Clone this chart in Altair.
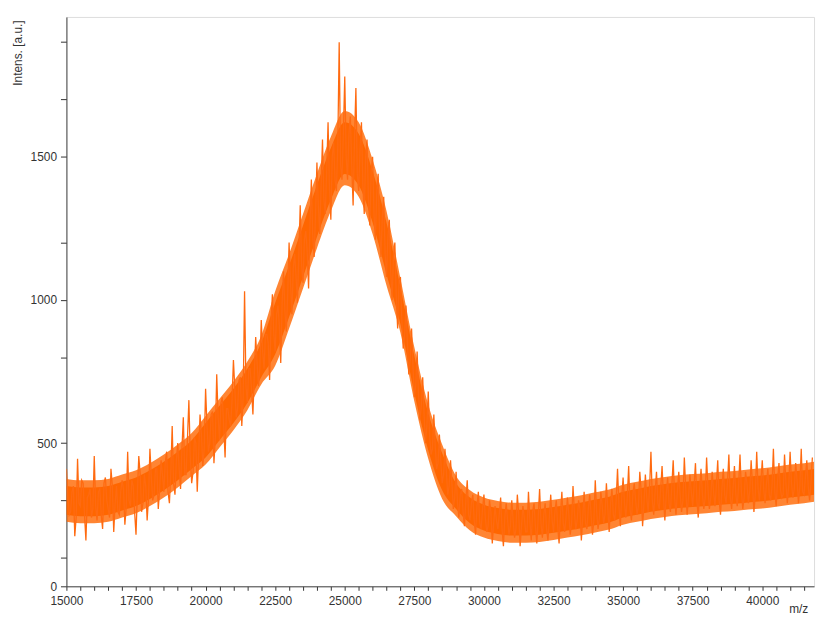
import altair as alt
import pandas as pd

# Spectrum trace, values.
# TRACE: m/z 15000, 15100, ... 41800 ; TRACE_B: m/z 15050, 15150, ... 41750
MZ_START, MZ_STEP = 15000, 100
TRACE = [
    410, 250, 330, 175, 445, 280, 360, 160, 320, 240,
    455, 230, 340, 200, 380, 270, 410, 190, 350, 250,
    370, 215, 470, 280, 350, 180, 455, 260, 390, 230,
    480, 300, 410, 270, 440, 330, 470, 290, 560, 320,
    500, 340, 590, 390, 650, 360, 520, 330, 600, 420,
    690, 470, 600, 430, 740, 510, 660, 450, 620, 560,
    790, 590, 720, 560, 1030, 640, 760, 600, 870, 700,
    930, 760, 880, 720, 1020, 820, 980, 780, 1100, 890,
    1200, 950, 1160, 990, 1330, 1060, 1240, 1040, 1420, 1150,
    1480, 1230, 1560, 1300, 1620, 1280, 1550, 1380, 1900, 1420,
    1780, 1420, 1640, 1330, 1740, 1380, 1620, 1300, 1560, 1260,
    1500, 1210, 1440, 1150, 1360, 1080, 1280, 1000, 1200, 900,
    1080, 830, 980, 740, 900, 660, 820, 580, 730, 500,
    680, 460, 600, 410, 530, 360, 480, 320, 440, 270,
    400, 240, 340, 210, 370, 230, 320, 180, 330, 200,
    320, 190, 300, 150, 280, 200, 310, 140, 290, 180,
    300, 170, 320, 140, 280, 190, 330, 160, 290, 150,
    340, 170, 290, 160, 320, 190, 300, 150, 330, 190,
    310, 180, 350, 200, 300, 160, 330, 200, 320, 180,
    370, 200, 330, 220, 360, 190, 340, 230, 410, 210,
    380, 240, 420, 230, 360, 250, 400, 210, 390, 260,
    470, 250, 400, 270, 420, 230, 380, 260, 440, 250,
    400, 260, 450, 250, 390, 280, 430, 240, 410, 270,
    450, 270, 400, 280, 440, 250, 410, 290, 460, 270,
    420, 280, 460, 270, 400, 290, 440, 260, 470, 300,
    440, 290, 410, 300, 480, 280, 430, 310, 460, 290,
    470, 310, 430, 290, 480, 320, 440, 300, 450,
]
TRACE_B = [
    320, 260, 350, 240, 290, 370, 250, 310, 340, 270,
    280, 330, 250, 360, 300, 240, 350, 290, 260, 330,
    340, 280, 300, 370, 260, 330, 390, 290, 350, 310,
    380, 320, 410, 340, 390, 430, 330, 400, 360, 440,
    410, 480, 390, 520, 450, 400, 500, 460, 530, 480,
    560, 500, 610, 520, 590, 640, 560, 620, 580, 650,
    690, 620, 730, 660, 700, 760, 690, 740, 780, 760,
    820, 880, 850, 920, 880, 950, 910, 990, 960, 1020,
    1060, 1110, 1080, 1160, 1120, 1210, 1170, 1260, 1220, 1300,
    1330, 1400, 1350, 1450, 1390, 1500, 1420, 1540, 1470, 1580,
    1500, 1580, 1470, 1560, 1440, 1530, 1400, 1500, 1350, 1450,
    1300, 1380, 1240, 1290, 1160, 1220, 1100, 1150, 1010, 1070,
    930, 870, 850, 790, 770, 700, 670, 630, 600, 560,
    520, 480, 490, 430, 440, 390, 400, 350, 360, 310,
    290, 320, 260, 300, 250, 290, 230, 280, 220, 270,
    240, 210, 260, 220, 230, 250, 200, 240, 230, 210,
    230, 200, 250, 210, 240, 190, 230, 260, 210, 240,
    220, 250, 200, 240, 230, 260, 210, 250, 220, 240,
    250, 220, 260, 230, 270, 240, 220, 270, 250, 230,
    260, 240, 280, 250, 270, 290, 250, 300, 280, 310,
    290, 310, 270, 320, 300, 280, 330, 290, 310, 340,
    300, 330, 290, 340, 310, 320, 290, 350, 310, 330,
    320, 300, 340, 310, 330, 350, 300, 340, 320, 310,
    340, 310, 330, 350, 300, 340, 320, 360, 310, 340,
    320, 350, 330, 310, 360, 330, 350, 320, 340, 360,
    340, 360, 320, 350, 330, 370, 340, 320, 360, 350,
    360, 340, 370, 350, 330, 380, 350, 360,
]
MZ = [MZ_START + i * MZ_STEP for i in range(len(TRACE))]
MZ_B = [MZ_START + MZ_STEP // 2 + i * MZ_STEP for i in range(len(TRACE_B))]

# Envelopes of the noisy trace, read every 500 m/z
BAND_MZ = [15000, 15500, 16000, 16500, 17000, 17500, 18000, 18500, 19000, 19500,
           20000, 20500, 21000, 21500, 22000, 22500, 23000, 23500, 24000, 24500,
           25000, 25500, 26000, 26500, 27000, 27500, 28000, 28500, 29000, 29500,
           30000, 30500, 31000, 31500, 32000, 32500, 33000, 33500, 34000, 34500,
           35000, 35500, 36000, 36500, 37000, 37500, 38000, 38500, 39000, 39500,
           40000, 40500, 41000, 41500, 41860]
# dense inner core
INNER_LO = [250, 245, 245, 250, 265, 280, 305, 335, 370, 410,
            450, 510, 570, 640, 730, 810, 940, 1080, 1220, 1350,
            1440, 1400, 1270, 1090, 915, 675, 475, 335, 270, 220,
            195, 183, 177, 177, 180, 187, 195, 203, 213, 223,
            240, 250, 260, 267, 273, 277, 280, 285, 288, 293,
            297, 303, 310, 315, 320]
INNER_HI = [350, 345, 345, 350, 365, 380, 405, 435, 470, 510,
            570, 630, 690, 760, 850, 990, 1120, 1260, 1400, 1530,
            1620, 1580, 1450, 1270, 1045, 805, 605, 465, 360, 310,
            285, 273, 267, 267, 270, 277, 285, 293, 303, 313,
            330, 340, 350, 357, 363, 367, 370, 375, 378, 383,
            387, 393, 400, 405, 410]
# fringe of the dense band
OUTER_LO = [225, 220, 220, 225, 240, 255, 280, 310, 345, 385,
            425, 485, 545, 615, 705, 770, 900, 1040, 1180, 1310,
            1400, 1360, 1230, 1050, 885, 645, 445, 305, 245, 195,
            170, 158, 152, 152, 155, 162, 170, 178, 188, 198,
            215, 225, 235, 242, 248, 252, 255, 260, 263, 268,
            272, 278, 285, 290, 295]
OUTER_HI = [375, 370, 370, 375, 390, 405, 430, 460, 495, 535,
            595, 655, 715, 785, 875, 1030, 1160, 1300, 1440, 1570,
            1660, 1620, 1490, 1310, 1075, 835, 635, 495, 385, 335,
            310, 298, 292, 292, 295, 302, 310, 318, 328, 338,
            355, 365, 375, 382, 388, 392, 395, 400, 403, 408,
            412, 418, 425, 430, 435]

X_TICKS = list(range(15000, 41501, 500))
Y_TICKS = [0, 100, 300, 500, 800, 1000, 1200, 1500, 1700, 1900]
X_DOMAIN = [15000, 41860]
Y_DOMAIN = [0, 1988]

trace_df = (
    pd.DataFrame({"mz": MZ + MZ_B, "intens": TRACE + TRACE_B})
    .sort_values("mz")
    .reset_index(drop=True)
)
band_df = pd.DataFrame({"mz": BAND_MZ, "ilo": INNER_LO, "ihi": INNER_HI,
                        "olo": OUTER_LO, "ohi": OUTER_HI})

FONT = "Liberation Sans"

x_enc = alt.X(
    "mz:Q",
    scale=alt.Scale(domain=X_DOMAIN, nice=False, zero=False),
    axis=alt.Axis(
        values=X_TICKS, format="d",
        labelExpr="datum.value % 2500 == 0 ? datum.label : ''",
        title="m/z", titleX=739, titleY=22, titleAlign="center",
        titleBaseline="middle", titleFont=FONT, titleFontSize=12,
        titleFontWeight="normal", titleColor="#333333",
        labelFont=FONT, labelFontSize=12, labelColor="#333333",
        labelOverlap=False, labelFlush=False, labelPadding=5,
        tickSize=4, tickColor="#333333", domainColor="#444444",
        grid=False,
    ),
)

y_scale = alt.Scale(domain=Y_DOMAIN, nice=False, zero=True)
y_axis = alt.Axis(
    values=Y_TICKS, format="d",
    labelExpr="datum.value % 500 == 0 ? datum.label : ''",
    title="Intens. [a.u.]", titleX=-49, titleY=36, titleAngle=270,
    titleAlign="center", titleBaseline="middle", titleFont=FONT,
    titleFontSize=12, titleFontWeight="normal", titleColor="#333333",
    labelFont=FONT, labelFontSize=12, labelColor="#333333",
    labelOverlap=False, labelFlush=False, labelPadding=4,
    tickSize=6, tickColor="#333333", domainColor="#444444",
    grid=False,
)

outer = alt.Chart(band_df).mark_area(
    color="#FF6600", opacity=0.8, interpolate="monotone", clip=True
).encode(
    x=x_enc,
    y=alt.Y("olo:Q", scale=y_scale, axis=y_axis),
    y2="ohi:Q",
)

inner = alt.Chart(band_df).mark_area(
    color="#FF6600", opacity=1, interpolate="monotone", clip=True
).encode(
    x=x_enc,
    y=alt.Y("ilo:Q", scale=y_scale, axis=y_axis),
    y2="ihi:Q",
)

line = alt.Chart(trace_df).mark_line(
    color="#FF6A10", strokeWidth=1.3, clip=True
).encode(
    x=x_enc,
    y=alt.Y("intens:Q", scale=y_scale, axis=y_axis),
)

chart = (outer + inner + line).properties(
    width=755, height=575,
    autosize=alt.AutoSizeParams(type="none"),
    padding={"left": 59, "top": 6, "right": 4, "bottom": 31},
).configure_view(
    stroke="#808080", strokeWidth=1.5
).configure(background="white")

chart.save("out.html", embed_options={"renderer": "svg", "actions": False})
